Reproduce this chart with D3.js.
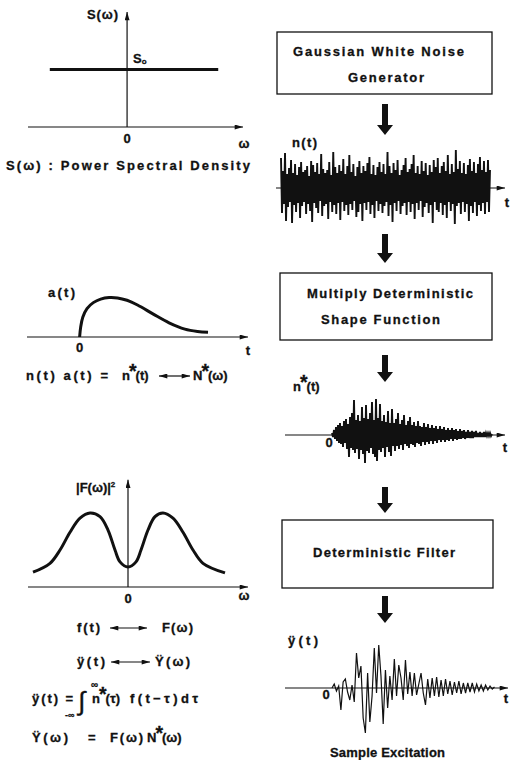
<!DOCTYPE html>
<html><head><meta charset="utf-8">
<script src="https://cdn.jsdelivr.net/npm/d3@7"></script>
<style>
body{margin:0;background:#fff;}
svg text{font-family:"Liberation Sans",Arial,sans-serif;font-weight:bold;fill:#111;stroke:#111;stroke-width:0.3px;}
</style></head><body>
<svg id="c" width="514" height="760"></svg>
<script>
// ---- data ----
const psdOmega = [-0.78, 0.92];
const psdValue = [0.5, 0.5];
const shapeT = [0, 0.01, 0.03, 0.07, 0.13, 0.2, 0.28, 0.36, 0.45, 0.55, 0.7, 0.85, 1.0, 1.12, 1.22];
const shapeA = [0, 0.25, 0.5, 0.72, 0.87, 0.96, 1.0, 0.99, 0.93, 0.81, 0.58, 0.36, 0.2, 0.14, 0.12];
const filterOmega = [-0.95,-0.78,-0.68,-0.58,-0.48,-0.38,-0.28,-0.2,-0.13,-0.08,0,0.08,0.13,0.2,0.27,0.35,0.45,0.55,0.65,0.75,0.97];
const filterValue = [0.2,0.32,0.5,0.74,0.93,1,0.95,0.77,0.5,0.34,0.27,0.34,0.5,0.77,0.95,1,0.93,0.74,0.5,0.32,0.19];
const noiseUpper = [30,17,35,14,20,28,15,24,13,21,26,16,18,22,12,27,23,16,25,14,34,19,15,18,26,13,36,21,15,23,17,29,14,22,33,16,24,12,21,27,15,22,17,25,31,14,23,13,21,26,16,24,14,36,22,15,25,18,28,13,18,23,30,16,19,24,33,15,22,14,27,17,25,13,23,16,28,21,30,15,22,26,17,33,14,24,16,38,19,27,15,25,14,23,29,17,26,15,24,31,18,27,16,28,18];
const noiseLower = [25,16,33,19,14,35,17,24,15,30,18,14,26,16,23,34,15,20,25,13,28,18,16,31,14,24,17,26,15,32,14,23,17,27,16,22,13,29,24,16,33,15,22,14,26,17,30,13,23,16,25,18,14,28,17,34,15,23,13,26,18,15,27,14,24,16,31,15,22,13,29,19,15,25,17,35,14,22,24,15,27,17,30,14,23,16,36,18,15,26,14,24,16,33,18,25,14,28,17,23,15,26,14,24,20];
const modUpper = [2,5,8,10,12,9,14,16,11,18,22,35,15,20,14,28,17,30,16,22,33,15,36,17,31,14,20,13,24,12,26,12,16,22,11,15,20,10,14,18,10,13,9,14,9,8,12,8,11,7,10,7,9,6,9,6,8,5,7,5,7,5,6,4,6,4,5,3,5,3,4,3,4,2,3,2,3,2,2,2,1];
const modLower = [2,4,6,8,9,12,8,14,22,13,15,18,14,24,15,19,28,16,18,13,19,22,26,15,17,13,22,12,17,21,11,16,11,14,10,15,9,11,13,9,10,12,8,9,11,7,10,7,9,6,9,6,8,5,7,5,7,5,6,4,6,4,5,4,4,3,4,3,3,3,3,2,2,2,2,2,2,1,1,1,1];
const excitation = [0,4,-3,2,-22,6,9,-4,-12,3,-14,35,10,22,-30,-45,15,-34,-8,40,-5,43,12,-36,18,-20,12,-12,29,-8,23,10,-12,28,-6,16,-8,15,-7,4,15,-5,-17,9,-10,10,-8,11,-9,8,-8,9,-6,7,-7,6,-5,7,-6,5,-5,5,-4,5,-4,4,-3,3,-3,3,-2,2,-1,1];
const boxLabels = [["Gaussian  White Noise", "Generator"], ["Multiply  Deterministic", "Shape Function"], ["Deterministic  Filter"]];

// ---- drawing ----
const svg = d3.select("#c");
svg.append("rect").attr("width",514).attr("height",760).attr("fill","#fff");
const defs = svg.append("defs");
defs.append("marker").attr("id","ah").attr("viewBox","0 0 10 6").attr("refX",10).attr("refY",3)
  .attr("markerWidth",9).attr("markerHeight",5).attr("markerUnits","userSpaceOnUse").attr("orient","auto-start-reverse")
  .append("path").attr("d","M0,0L10,3L0,6Z").attr("fill","#111");
const ink = "#111";
const FS = 13;

function line(x1,y1,x2,y2,w,arrow,both){
  const l = svg.append("line").attr("x1",x1).attr("y1",y1).attr("x2",x2).attr("y2",y2)
    .attr("stroke",ink).attr("stroke-width",w);
  if(arrow) l.attr("marker-end","url(#ah)");
  if(both) l.attr("marker-start","url(#ah)");
  return l;
}
function txt(x,y,s,o={}){
  const t = svg.append("text").attr("x",x).attr("y",y).attr("font-size",o.size||FS)
    .attr("text-anchor",o.anchor||"start").text(s);
  if(o.len){ t.attr("textLength",o.len).attr("lengthAdjust","spacing"); }
  return t;
}
function starTxt(x,y,a,b,o={}){
  const s = o.size||FS;
  const t = svg.append("text").attr("x",x).attr("y",y).attr("font-size",s);
  t.append("tspan").text(a);
  t.append("tspan").attr("font-size",s*1.5).attr("dy",-2).attr("dx",-1).text("*");
  t.append("tspan").attr("dy",2).attr("dx",-1).text(b);
  return t;
}

// Panel 1: PSD
const xS = d3.scaleLinear().domain([-1,1.17]).range([28,243]);
const yS = d3.scaleLinear().domain([0,1]).range([127,12]);
line(xS(-1),yS(0),xS(1.17),yS(0),1.2,true);
line(xS(0),yS(0),xS(0),yS(1),1.2,true);
svg.append("path").datum(psdOmega.map((w,i)=>[w,psdValue[i]]))
  .attr("d",d3.line().x(d=>xS(d[0])).y(d=>yS(d[1]))).attr("stroke",ink).attr("stroke-width",3).attr("fill","none");
txt(87,19,"S(ω)",{len:31});
const s0 = svg.append("text").attr("x",133).attr("y",63).attr("font-size",FS);
s0.append("tspan").text("S"); s0.append("tspan").attr("font-size",8).attr("dy",1).text("o");
txt(xS(0),143,"0",{anchor:"middle"});
txt(244,148,"ω",{anchor:"middle"});
txt(6,170,"S(ω)  : Power Spectral Density",{len:244});

// Panel 2: shape function
const xA = d3.scaleLinear().domain([-0.5,1.6]).range([27,248]);
const yA = d3.scaleLinear().domain([0,1]).range([337,297.5]);
line(xA(-0.5),yA(0),xA(1.6),yA(0),1.2,true);
svg.append("path").datum(shapeT.map((t,i)=>[t,shapeA[i]]))
  .attr("d",d3.line().curve(d3.curveCatmullRom).x(d=>xA(d[0])).y(d=>yA(d[1])))
  .attr("stroke",ink).attr("stroke-width",3).attr("fill","none");
txt(48,297,"a(t)",{len:27});
txt(xA(0),352,"0",{anchor:"middle"});
txt(248,355,"t",{anchor:"middle"});
txt(26,380,"n(t) a(t) =",{len:82});
starTxt(122,380,"n","(t)");
line(159,376,190,376,1.2,true,true);
starTxt(193,380,"N","(ω)");

// Panel 3: filter
const xF = d3.scaleLinear().domain([-1,1.2]).range([28,248]);
const yF = d3.scaleLinear().domain([0,1]).range([587,513]);
line(xF(-1),yF(0),xF(1.2),yF(0),1.2,true);
line(xF(0),yF(0),xF(0),yF(1.45),1.2,true);
svg.append("path").datum(filterOmega.map((w,i)=>[w,filterValue[i]]))
  .attr("d",d3.line().curve(d3.curveCatmullRom).x(d=>xF(d[0])).y(d=>yF(d[1])))
  .attr("stroke",ink).attr("stroke-width",3).attr("fill","none");
const fl = svg.append("text").attr("x",76).attr("y",492).attr("font-size",FS);
fl.append("tspan").text("|F(ω)|"); fl.append("tspan").attr("font-size",8).attr("dy",-5).text("2");
txt(xF(0),603,"0",{anchor:"middle"});
txt(244,600,"ω",{anchor:"middle"});

txt(77,632,"f(t)",{len:23});
line(110,628,147,628,1.2,true,true);
txt(162,632,"F(ω)",{len:31});
txt(77,666,"ÿ(t)",{len:28});
line(111,662,150,662,1.2,true,true);
txt(155,666,"Ÿ(ω)",{len:35});
txt(32,703,"ÿ(t) =",{len:41});
txt(65,718,"-∞",{size:9});
txt(78,710,"∫",{size:26}).style("font-weight","normal");
txt(91,688,"∞",{size:10});
starTxt(92,703,"n","(τ)");
txt(130,703,"f(t−τ)dτ",{len:68});
txt(32,742,"Ÿ(ω)",{len:36});
txt(88,742,"=");
txt(110,742,"F(ω)",{len:33});
starTxt(147,742,"N","(ω)");

// Right column: boxes
const boxes = [[277,32,492,94],[280,273,492,340],[282,520,493,588]];
boxes.forEach(b=>svg.append("rect").attr("x",b[0]).attr("y",b[1]).attr("width",b[2]-b[0]).attr("height",b[3]-b[1])
  .attr("fill","none").attr("stroke",ink).attr("stroke-width",1.3));
txt(293,56,boxLabels[0][0],{len:171});
txt(348,81.5,boxLabels[0][1],{len:76});
txt(307,298,boxLabels[1][0],{len:166});
txt(321,324,boxLabels[1][1],{len:119});
txt(313,557,boxLabels[2][0],{len:142});

// flow arrows
function flow(y1,y2){
  const cx=385, sw=3, hw=8, hl=10;
  svg.append("path").attr("d",`M${cx-sw},${y1}L${cx+sw},${y1}L${cx+sw},${y2-hl}L${cx+hw},${y2-hl}L${cx},${y2}L${cx-hw},${y2-hl}L${cx-sw},${y2-hl}Z`)
    .attr("fill",ink);
}
flow(104,135); flow(234,263); flow(355,382); flow(487,513); flow(596,623);

// dense noise drawing: zigzag between upper and lower amplitudes
function zig(up,lo,xs,ys){
  const pts=[]; up.forEach((u,i)=>{pts.push([xs(i),ys(u)]); pts.push([xs(i+0.5),ys(-lo[i])]);});
  pts.pop();
  svg.append("path").attr("d",d3.line()(pts)).attr("stroke",ink).attr("stroke-width",1.9).attr("fill","none");
}

// n(t)
const xN = d3.scaleLinear().domain([0,noiseUpper.length-1]).range([281,490]);
const yN = d3.scaleLinear().domain([-40,40]).range([228,148]);
line(276,yN(0),505,yN(0),1.2,true);
zig(noiseUpper,noiseLower,xN,yN);
txt(292,147,"n(t)",{len:25});
txt(507,207,"t",{anchor:"middle"});

// n*(t)
const xM = d3.scaleLinear().domain([0,modUpper.length-1]).range([332,492]);
const yM = d3.scaleLinear().domain([-40,40]).range([475,395]);
line(285,yM(0),505,yM(0),1.2,true);
zig(modUpper,modLower,xM,yM);
starTxt(293,391,"n","(t)");
txt(329,447,"0",{anchor:"middle"});
txt(505,452,"t",{anchor:"middle"});

// ÿ(t)
const xY = d3.scaleLinear().domain([0,excitation.length-1]).range([332,494.5]);
const yY = d3.scaleLinear().domain([-50,50]).range([738,638]);
line(285,yY(0),508,yY(0),1.2,true);
svg.append("path").datum(excitation)
  .attr("d",d3.line().x((d,i)=>xY(i)).y(d=>yY(d)))
  .attr("stroke",ink).attr("stroke-width",1.2).attr("fill","none");
txt(288,645,"ÿ(t)",{len:30});
txt(326,699,"0",{anchor:"middle"});
txt(506,703,"t",{anchor:"middle"});
txt(330,757,"Sample Excitation",{len:115});
</script>
</body></html>
